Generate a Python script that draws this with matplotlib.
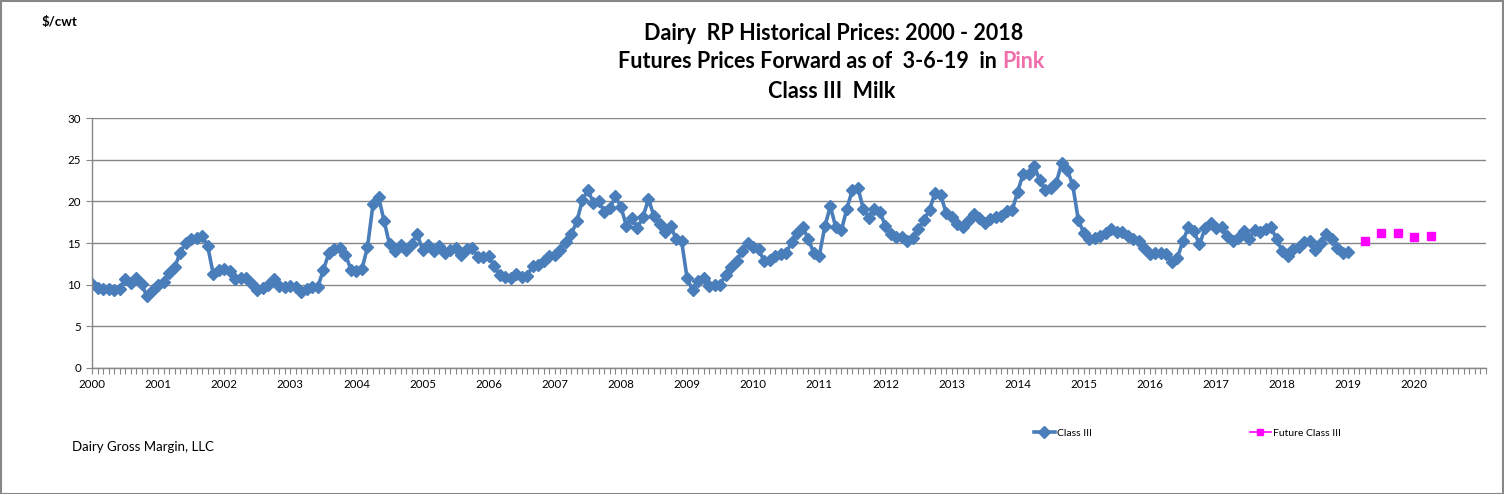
import matplotlib
matplotlib.use("Agg")
import matplotlib.pyplot as plt
from matplotlib.patches import Rectangle
from matplotlib.ticker import FixedLocator

plt.rcParams['font.family'] = ['Lato', 'DejaVu Sans']

# monthly Class III prices, Jan 2000 .. Jan 2019
class3 = [
    10.05, 9.54, 9.41, 9.41, 9.37, 9.46, 10.66, 10.13, 10.76, 10.02, 8.57, 9.37,
    9.99, 10.27, 11.42, 12.06, 13.83, 15.02, 15.46, 15.55, 15.90, 14.60, 11.31, 11.80,
    11.87, 11.63, 10.65, 10.85, 10.82, 10.09, 9.33, 9.54, 9.92, 10.72, 9.84, 9.74,
    9.78, 9.66, 9.11, 9.41, 9.71, 9.75, 11.78, 13.80, 14.30, 14.39, 13.61, 11.79,
    11.61, 11.89, 14.49, 19.66, 20.58, 17.68, 14.85, 14.04, 14.72, 14.16, 14.89, 16.14,
    14.14, 14.70, 14.08, 14.61, 13.77, 14.10, 14.35, 13.60, 14.30, 14.35, 13.35, 13.37,
    13.39, 12.20, 11.11, 10.93, 10.83, 11.29, 10.92, 11.06, 12.29, 12.32, 12.84, 13.47,
    13.56, 14.18, 15.09, 16.09, 17.60, 20.17, 21.38, 19.83, 20.07, 18.70, 19.22, 20.60,
    19.32, 17.03, 18.00, 16.76, 18.18, 20.25, 18.24, 17.32, 16.28, 17.06, 15.51, 15.28,
    10.78, 9.31, 10.44, 10.78, 9.84, 9.97, 9.97, 11.20, 12.11, 12.82, 14.08, 15.01,
    14.50, 14.28, 12.78, 12.92, 13.38, 13.62, 13.74, 15.18, 16.26, 16.94, 15.44, 13.83,
    13.48, 17.00, 19.40, 16.87, 16.52, 19.11, 21.39, 21.67, 19.07, 18.03, 19.07, 18.77,
    17.05, 16.06, 15.72, 15.72, 15.23, 15.63, 16.68, 17.73, 19.00, 21.02, 20.83, 18.66,
    18.14, 17.25, 16.93, 17.59, 18.52, 18.02, 17.38, 17.91, 18.14, 18.22, 18.83, 18.95,
    21.15, 23.35, 23.33, 24.31, 22.57, 21.36, 21.60, 22.25, 24.60, 23.82, 21.94, 17.82,
    16.18, 15.46, 15.56, 15.81, 16.19, 16.72, 16.33, 16.30, 15.82, 15.46, 15.30, 14.44,
    13.72, 13.80, 13.74, 13.63, 12.76, 13.22, 15.24, 16.91, 16.39, 14.82, 16.76, 17.40,
    16.77, 16.88, 15.81, 15.22, 15.57, 16.44, 15.45, 16.57, 16.36, 16.69, 16.88, 15.44,
    14.00, 13.40, 14.22, 14.47, 15.18, 15.21, 14.10, 14.95, 16.09, 15.53, 14.44, 13.78,
    13.96,
]
# futures as of 3-6-19 (month index from Jan 2000)
fut_months = [231, 234, 237, 240, 243]
fut_prices = [15.30, 16.20, 16.20, 15.75, 15.87]
years = list(range(2000, 2021))
n_months = 253

W, H = 1504, 494
fig = plt.figure(figsize=(W / 100, H / 100), dpi=100)
ax = fig.add_axes([92 / W, 1 - 367.7 / H, (1486 - 92) / W, (367.7 - 118.3) / H])

blue = '#4a7ebb'
grey = '#868686'
h1, = ax.plot(range(len(class3)), class3, color=blue, lw=2.6, marker='D', ms=6,
              mfc=blue, mec=blue, label='Class III')
h2, = ax.plot(fut_months, fut_prices, color='#ff00ff', ls='none', marker='s', ms=6,
              label='Future Class III')

ax.set_xlim(0, n_months)
ax.set_ylim(0, 30)
ax.set_yticks(range(0, 31, 5))
ax.grid(axis='y', color=grey, lw=1)
ax.set_axisbelow(True)

ax.set_xticks([12 * i for i in range(len(years))])
ax.set_xticklabels([str(y) for y in years])
ax.xaxis.set_minor_locator(FixedLocator(range(0, n_months + 1)))
ax.tick_params(axis='x', which='both', length=4, width=0.8, color=grey, direction='out',
               labelsize=8.3, pad=4)
ax.tick_params(axis='y', length=4, width=0.8, color=grey, labelsize=8.3, pad=4)

for s in ['top', 'right']:
    ax.spines[s].set_visible(False)
for s in ['left', 'bottom']:
    ax.spines[s].set_color(grey)
    ax.spines[s].set_linewidth(1)

# titles
fs = 15.5
fig.text(834 / W, 1 - 33 / H, 'Dairy  RP Historical Prices: 2000 - 2018', ha='center',
         va='center', fontsize=fs, fontweight='bold')
fig.text(1002 / W, 1 - 62 / H, 'Futures Prices Forward as of  3-6-19  in ', ha='right',
         va='center', fontsize=fs, fontweight='bold')
fig.text(1002 / W, 1 - 62 / H, 'Pink', ha='left', va='center', fontsize=fs,
         fontweight='bold', color='#f06eaa')
fig.text(832 / W, 1 - 92 / H, 'Class III  Milk', ha='center', va='center', fontsize=fs,
         fontweight='bold')

fig.text(42 / W, 1 - 22 / H, '$/cwt', ha='left', va='center', fontsize=9.5, fontweight='bold')
fig.text(72 / W, 1 - 447 / H, 'Dairy Gross Margin, LLC', ha='left', va='center', fontsize=9.5)

fig.legend(handles=[h1], loc='center left', bbox_to_anchor=(1034 / W, 1 - 433 / H),
           frameon=False, fontsize=7.5, handlelength=2.0, handletextpad=0.2,
           borderaxespad=0, borderpad=0)
h2leg, = ax.plot([], [], color='#ff00ff', lw=1.2, marker='s', ms=4, label='Future Class III')
fig.legend(handles=[h2leg], loc='center left', bbox_to_anchor=(1250 / W, 1 - 433 / H),
           frameon=False, fontsize=7.5, handlelength=2.0, handletextpad=0.2,
           borderaxespad=0, borderpad=0)

fig.patches.append(Rectangle((0.5 / W, 0.5 / H), 1 - 1.5 / W, 1 - 1.5 / H,
                             transform=fig.transFigure, fill=False, ec=grey, lw=1.5))

fig.savefig('out.png', dpi=100)
